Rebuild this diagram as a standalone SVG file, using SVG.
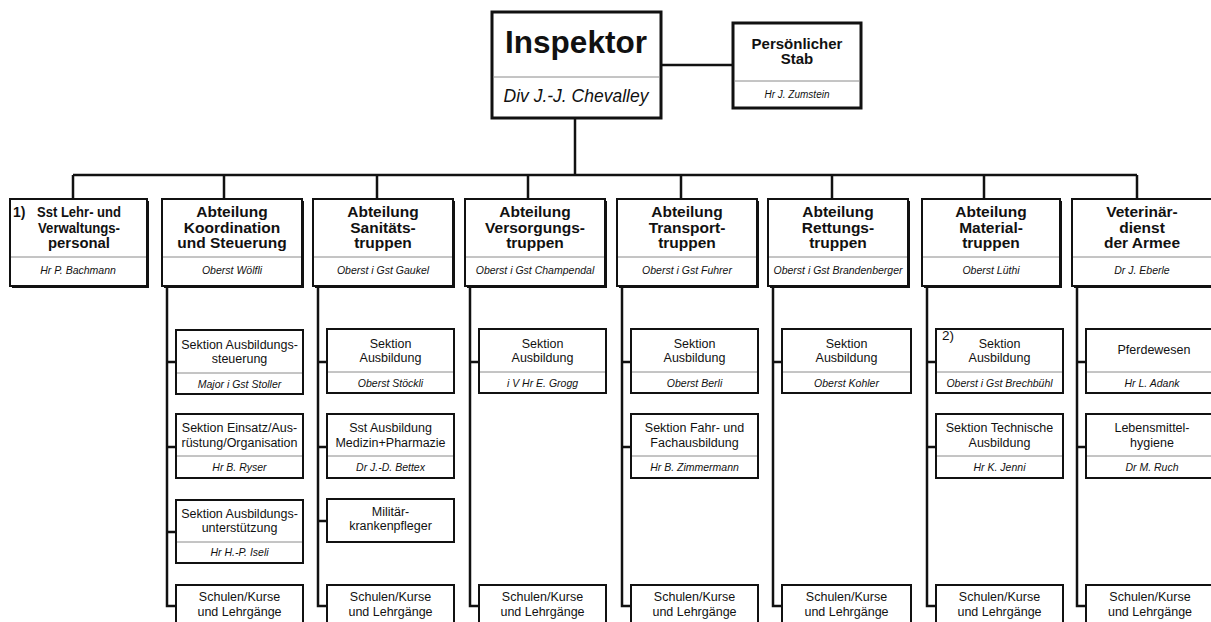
<svg xmlns="http://www.w3.org/2000/svg" width="1211" height="622" viewBox="0 0 1211 622">
<style>
.bg{fill:#fff}
.box{fill:#fff;stroke:#111;stroke-width:2}
.hbox{fill:#fff;stroke:#111;stroke-width:3}
.sh{fill:#111}
.dv{stroke:#8a8a8a;stroke-width:1}
.c{stroke:#111;stroke-width:2.5;fill:none}
text{font-family:"Liberation Sans",Arial,Helvetica,sans-serif;fill:#111;text-anchor:middle}
.b{font-weight:bold;font-size:15.5px}
.n{font-style:italic;font-size:10.5px}
.s{font-size:12.5px}
</style>
<rect class="bg" x="0" y="0" width="1211" height="622"/>
<g id="connectors">
<path class="c" d="M661 65H733"/>
<path class="c" d="M575 118V175"/>
<path class="c" d="M73 175H1137"/>
<path class="c" d="M73 175V199M224 175V199M377 175V199M528 175V199M681 175V199M832 175V199M984 175V199M1137 175V199"/>
<path class="c" d="M167 286V606H176M167 362H176M167 447H176M167 532H176"/>
<path class="c" d="M318 286V606H327M318 362H327M318 447H327M318 521H327"/>
<path class="c" d="M470 286V606H479M470 362H479"/>
<path class="c" d="M622 286V606H631M622 362H631M622 447H631"/>
<path class="c" d="M773 286V606H782M773 362H782"/>
<path class="c" d="M927 286V606H936M927 362H936M927 447H936"/>
<path class="c" d="M1077 286V606H1086M1077 362H1086M1077 447H1086"/>
</g>
<g id="inspektor">
<rect class="hbox" x="492" y="12" width="169" height="106"/>
<line class="dv" x1="493" y1="77" x2="660" y2="77"/>
<text x="576" y="53" style="font-weight:bold;font-size:31.5px">Inspektor</text>
<text x="576" y="102" style="font-style:italic;font-size:17.5px">Div J.-J. Chevalley</text>
</g>
<g id="stab">
<rect class="hbox" x="733" y="23" width="128" height="85"/>
<line class="dv" x1="734" y1="81" x2="860" y2="81"/>
<text class="b" x="797" y="49" style="font-size:15px">Persönlicher</text>
<text class="b" x="797" y="64" style="font-size:15px">Stab</text>
<text class="n" x="797" y="98" style="font-size:10px">Hr J. Zumstein</text>
</g>
<g id="sst-lehr">
<rect class="sh" x="12" y="201" width="137" height="87"/>
<rect class="box" x="10" y="199" width="137" height="87"/>
<line class="dv" x1="11" y1="257" x2="146" y2="257"/>
<text x="13" y="217" style="text-anchor:start;font-weight:bold;font-size:14px">1)</text>
<text class="b" x="79" y="217" textLength="84" lengthAdjust="spacingAndGlyphs">Sst Lehr- und</text>
<text class="b" x="79" y="232.5" textLength="82" lengthAdjust="spacingAndGlyphs">Verwaltungs-</text>
<text class="b" x="79" y="248" textLength="62" lengthAdjust="spacingAndGlyphs">personal</text>
<text class="n" x="78" y="274">Hr P. Bachmann</text>
</g>
<g id="koordination">
<rect class="sh" x="164" y="201" width="140" height="87"/>
<rect class="box" x="162" y="199" width="140" height="87"/>
<line class="dv" x1="163" y1="257" x2="301" y2="257"/>
<text class="b" x="232" y="217">Abteilung</text>
<text class="b" x="232" y="232.5">Koordination</text>
<text class="b" x="232" y="248">und Steuerung</text>
<text class="n" x="232" y="274">Oberst Wölfli</text>
</g>
<g id="sanitaet">
<rect class="sh" x="315" y="201" width="140" height="87"/>
<rect class="box" x="313" y="199" width="140" height="87"/>
<line class="dv" x1="314" y1="257" x2="452" y2="257"/>
<text class="b" x="383" y="217">Abteilung</text>
<text class="b" x="383" y="232.5">Sanitäts-</text>
<text class="b" x="383" y="248">truppen</text>
<text class="n" x="383" y="274">Oberst i Gst Gaukel</text>
</g>
<g id="versorgung">
<rect class="sh" x="467" y="201" width="140" height="87"/>
<rect class="box" x="465" y="199" width="140" height="87"/>
<line class="dv" x1="466" y1="257" x2="604" y2="257"/>
<text class="b" x="535" y="217">Abteilung</text>
<text class="b" x="535" y="232.5">Versorgungs-</text>
<text class="b" x="535" y="248">truppen</text>
<text class="n" x="535" y="274">Oberst i Gst Champendal</text>
</g>
<g id="transport">
<rect class="sh" x="619" y="201" width="140" height="87"/>
<rect class="box" x="617" y="199" width="140" height="87"/>
<line class="dv" x1="618" y1="257" x2="756" y2="257"/>
<text class="b" x="687" y="217">Abteilung</text>
<text class="b" x="687" y="232.5">Transport-</text>
<text class="b" x="687" y="248">truppen</text>
<text class="n" x="687" y="274">Oberst i Gst Fuhrer</text>
</g>
<g id="rettung">
<rect class="sh" x="770" y="201" width="140" height="87"/>
<rect class="box" x="768" y="199" width="140" height="87"/>
<line class="dv" x1="769" y1="257" x2="907" y2="257"/>
<text class="b" x="838" y="217">Abteilung</text>
<text class="b" x="838" y="232.5">Rettungs-</text>
<text class="b" x="838" y="248">truppen</text>
<text class="n" x="838" y="274">Oberst i Gst Brandenberger</text>
</g>
<g id="material">
<rect class="sh" x="924" y="201" width="138" height="87"/>
<rect class="box" x="922" y="199" width="138" height="87"/>
<line class="dv" x1="923" y1="257" x2="1059" y2="257"/>
<text class="b" x="991" y="217">Abteilung</text>
<text class="b" x="991" y="232.5">Material-</text>
<text class="b" x="991" y="248">truppen</text>
<text class="n" x="991" y="274">Oberst Lüthi</text>
</g>
<g id="veterinaer">
<rect class="sh" x="1074" y="201" width="140" height="87"/>
<rect class="box" x="1072" y="199" width="140" height="87"/>
<line class="dv" x1="1073" y1="257" x2="1211" y2="257"/>
<text class="b" x="1142" y="217">Veterinär-</text>
<text class="b" x="1142" y="232.5">dienst</text>
<text class="b" x="1142" y="248">der Armee</text>
<text class="n" x="1142" y="274">Dr J. Eberle</text>
</g>
<g id="k1">
<rect class="box" x="176" y="330" width="127" height="64"/>
<line class="dv" x1="177" y1="373" x2="302" y2="373"/>
<text class="s" x="239.5" y="349">Sektion Ausbildungs-</text>
<text class="s" x="239.5" y="363">steuerung</text>
<text class="n" x="239.5" y="388">Major i Gst Stoller</text>
</g>
<g id="k2">
<rect class="box" x="176" y="414" width="127" height="64"/>
<line class="dv" x1="177" y1="456" x2="302" y2="456"/>
<text class="s" x="239.5" y="432">Sektion Einsatz/Aus-</text>
<text class="s" x="239.5" y="447">rüstung/Organisation</text>
<text class="n" x="239.5" y="471">Hr B. Ryser</text>
</g>
<g id="k3">
<rect class="box" x="176" y="500" width="127" height="63"/>
<line class="dv" x1="177" y1="542" x2="302" y2="542"/>
<text class="s" x="239.5" y="518">Sektion Ausbildungs-</text>
<text class="s" x="239.5" y="532">unterstützung</text>
<text class="n" x="239.5" y="556">Hr H.-P. Iseli</text>
</g>
<g id="k4">
<rect class="box" x="176" y="585" width="127" height="60"/>
<text class="s" x="239.5" y="601">Schulen/Kurse</text>
<text class="s" x="239.5" y="616">und Lehrgänge</text>
</g>
<g id="s1">
<rect class="box" x="327" y="329" width="127" height="64"/>
<line class="dv" x1="328" y1="372" x2="453" y2="372"/>
<text class="s" x="390.5" y="348">Sektion</text>
<text class="s" x="390.5" y="362">Ausbildung</text>
<text class="n" x="390.5" y="387">Oberst Stöckli</text>
</g>
<g id="s2">
<rect class="box" x="327" y="414" width="127" height="64"/>
<line class="dv" x1="328" y1="456" x2="453" y2="456"/>
<text class="s" x="390.5" y="432">Sst Ausbildung</text>
<text class="s" x="390.5" y="447">Medizin+Pharmazie</text>
<text class="n" x="390.5" y="471">Dr J.-D. Bettex</text>
</g>
<g id="s3">
<rect class="box" x="327" y="499" width="127" height="43"/>
<text class="s" x="390.5" y="516">Militär-</text>
<text class="s" x="390.5" y="530">krankenpfleger</text>
</g>
<g id="s4">
<rect class="box" x="327" y="585" width="127" height="60"/>
<text class="s" x="390.5" y="601">Schulen/Kurse</text>
<text class="s" x="390.5" y="616">und Lehrgänge</text>
</g>
<g id="v1">
<rect class="box" x="479" y="329" width="127" height="64"/>
<line class="dv" x1="480" y1="372" x2="605" y2="372"/>
<text class="s" x="542.5" y="348">Sektion</text>
<text class="s" x="542.5" y="362">Ausbildung</text>
<text class="n" x="542.5" y="387">i V Hr E. Grogg</text>
</g>
<g id="v4">
<rect class="box" x="479" y="585" width="127" height="60"/>
<text class="s" x="542.5" y="601">Schulen/Kurse</text>
<text class="s" x="542.5" y="616">und Lehrgänge</text>
</g>
<g id="t1">
<rect class="box" x="631" y="329" width="127" height="64"/>
<line class="dv" x1="632" y1="372" x2="757" y2="372"/>
<text class="s" x="694.5" y="348">Sektion</text>
<text class="s" x="694.5" y="362">Ausbildung</text>
<text class="n" x="694.5" y="387">Oberst Berli</text>
</g>
<g id="t2">
<rect class="box" x="631" y="414" width="127" height="64"/>
<line class="dv" x1="632" y1="456" x2="757" y2="456"/>
<text class="s" x="694.5" y="432">Sektion Fahr- und</text>
<text class="s" x="694.5" y="447">Fachausbildung</text>
<text class="n" x="694.5" y="471">Hr B. Zimmermann</text>
</g>
<g id="t4">
<rect class="box" x="631" y="585" width="127" height="60"/>
<text class="s" x="694.5" y="601">Schulen/Kurse</text>
<text class="s" x="694.5" y="616">und Lehrgänge</text>
</g>
<g id="r1">
<rect class="box" x="782" y="329" width="129" height="64"/>
<line class="dv" x1="783" y1="372" x2="910" y2="372"/>
<text class="s" x="846.5" y="348">Sektion</text>
<text class="s" x="846.5" y="362">Ausbildung</text>
<text class="n" x="846.5" y="387">Oberst Kohler</text>
</g>
<g id="r4">
<rect class="box" x="782" y="585" width="129" height="60"/>
<text class="s" x="846.5" y="601">Schulen/Kurse</text>
<text class="s" x="846.5" y="616">und Lehrgänge</text>
</g>
<g id="m1">
<rect class="box" x="936" y="329" width="127" height="64"/>
<line class="dv" x1="937" y1="372" x2="1062" y2="372"/>
<text x="942" y="340" style="text-anchor:start;font-size:13.5px">2)</text>
<text class="s" x="999.5" y="348">Sektion</text>
<text class="s" x="999.5" y="362">Ausbildung</text>
<text class="n" x="999.5" y="387">Oberst i Gst Brechbühl</text>
</g>
<g id="m2">
<rect class="box" x="936" y="414" width="127" height="64"/>
<line class="dv" x1="937" y1="456" x2="1062" y2="456"/>
<text class="s" x="999.5" y="432">Sektion Technische</text>
<text class="s" x="999.5" y="447">Ausbildung</text>
<text class="n" x="999.5" y="471">Hr K. Jenni</text>
</g>
<g id="m4">
<rect class="box" x="936" y="585" width="127" height="60"/>
<text class="s" x="999.5" y="601">Schulen/Kurse</text>
<text class="s" x="999.5" y="616">und Lehrgänge</text>
</g>
<g id="w1">
<rect class="box" x="1086" y="329" width="127" height="64"/>
<line class="dv" x1="1087" y1="372" x2="1211" y2="372"/>
<text class="s" x="1154" y="354">Pferdewesen</text>
<text class="n" x="1152" y="387">Hr L. Adank</text>
</g>
<g id="w2">
<rect class="box" x="1086" y="414" width="127" height="64"/>
<line class="dv" x1="1087" y1="456" x2="1211" y2="456"/>
<text class="s" x="1152" y="432">Lebensmittel-</text>
<text class="s" x="1152" y="447">hygiene</text>
<text class="n" x="1152" y="471">Dr M. Ruch</text>
</g>
<g id="w4">
<rect class="box" x="1086" y="585" width="127" height="60"/>
<text class="s" x="1150" y="601">Schulen/Kurse</text>
<text class="s" x="1150" y="616">und Lehrgänge</text>
</g>
</svg>
